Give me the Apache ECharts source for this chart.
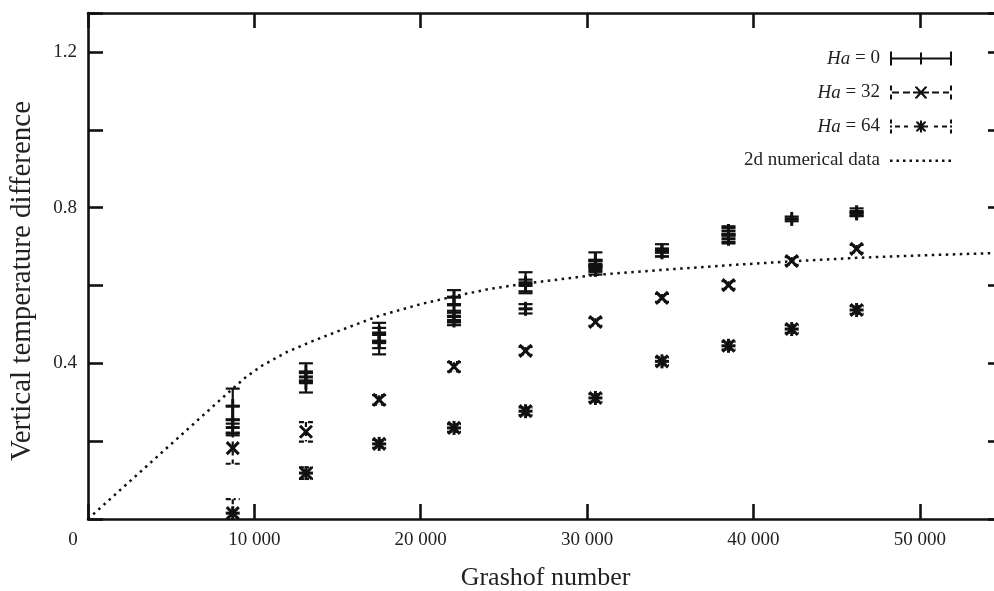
<!DOCTYPE html>
<html>
<head>
<meta charset="utf-8">
<script src="https://cdn.jsdelivr.net/npm/echarts@6/dist/echarts.min.js"></script>
<style>
html,body{margin:0;padding:0;background:#fff;}
#chart{width:994px;height:591px;}
</style>
</head>
<body>
<div id="chart"></div>
<script>
// ---- data: [Grashof number, temperature difference, error half-width] ----
const ha0 = [
  [8700,0.29,0.045],[8700,0.255,0.035],[8700,0.235,0.02],
  [13100,0.378,0.022],[13100,0.35,0.025],[13100,0.365,0.012],
  [17500,0.478,0.026],[17500,0.457,0.034],[17500,0.456,0.017],
  [22000,0.57,0.018],[22000,0.55,0.02],[22000,0.52,0.015],[22000,0.51,0.012],
  [26300,0.607,0.027],[26300,0.6,0.015],[26300,0.54,0.012],
  [30500,0.665,0.02],[30500,0.65,0.015],[30500,0.64,0.012],[30500,0.655,0.008],
  [34500,0.69,0.016],[34500,0.685,0.01],
  [38500,0.74,0.012],[38500,0.72,0.012],[38500,0.73,0.018],
  [42300,0.771,0.006],
  [46200,0.788,0.01],[46200,0.785,0.006]
];
const ha32 = [
  [8700,0.182,0.04],[13100,0.224,0.025],[17500,0.306,0.012],[22000,0.391,0.012],
  [26300,0.432,0.01],[30500,0.506,0.01],[34500,0.568,0.01],[38500,0.601,0.01],
  [42300,0.663,0.01],[46200,0.694,0.01]
];
const ha64 = [
  [8700,0.015,0.036],[13100,0.118,0.015],[17500,0.193,0.01],[22000,0.234,0.01],
  [26300,0.277,0.01],[30500,0.311,0.01],[34500,0.405,0.01],[38500,0.445,0.01],
  [42300,0.488,0.01],[46200,0.537,0.01]
];
const numGr  = [0, 8700, 9500, 10500, 12000, 13500, 15000, 17500, 20000, 22000, 24000, 26300, 30500, 34500, 38500, 42300, 46200, 50000, 55000];
const numVal = [0, 0.335, 0.365, 0.395, 0.43, 0.457, 0.482, 0.522, 0.552, 0.572, 0.59, 0.605, 0.627, 0.64, 0.652, 0.662, 0.671, 0.677, 0.684];
const seriesNames = ['Ha = 0', 'Ha = 32', 'Ha = 64', '2d numerical data'];
const yTickLabels = [0.4, 0.8, 1.2];

const INK = '#111';
const FONT = '"Liberation Serif", "DejaVu Serif", serif';

function errRenderer(kind) {
  return function (params, api) {
    const x = api.value(0), y = api.value(1), e = api.value(2);
    const c = api.coord([x, y]);
    const t = api.coord([x, y + e]);
    const b = api.coord([x, y - e]);
    const cap = 7;
    const dash = kind === 0 ? null : (kind === 1 ? [5, 4] : [5, 3, 2, 3]);
    const ls = { stroke: INK, lineWidth: 2.2, lineDash: dash, fill: null };
    const ms = { stroke: INK, lineWidth: 3, fill: null };
    const ch = [
      { type: 'line', shape: { x1: c[0], y1: t[1], x2: c[0], y2: b[1] }, style: ls },
      { type: 'line', shape: { x1: c[0] - cap, y1: t[1], x2: c[0] + cap, y2: t[1] }, style: ls },
      { type: 'line', shape: { x1: c[0] - cap, y1: b[1], x2: c[0] + cap, y2: b[1] }, style: ls }
    ];
    if (kind === 0) {
      ch.push({ type: 'line', shape: { x1: c[0] - 7, y1: c[1], x2: c[0] + 7, y2: c[1] }, style: ms });
      ch.push({ type: 'line', shape: { x1: c[0], y1: c[1] - 7, x2: c[0], y2: c[1] + 7 }, style: ms });
    } else {
      const d = 6;
      ch.push({ type: 'line', shape: { x1: c[0] - d, y1: c[1] - d, x2: c[0] + d, y2: c[1] + d }, style: ms });
      ch.push({ type: 'line', shape: { x1: c[0] - d, y1: c[1] + d, x2: c[0] + d, y2: c[1] - d }, style: ms });
      if (kind === 2) {
        ch.push({ type: 'line', shape: { x1: c[0], y1: c[1] - 7, x2: c[0], y2: c[1] + 7 }, style: ms });
        ch.push({ type: 'line', shape: { x1: c[0] - 7, y1: c[1], x2: c[0] + 7, y2: c[1] }, style: ms });
      }
    }
    return { type: 'group', children: ch };
  };
}

// legend sample icons (62 x 14 box)
const iconHa0 = 'path://M0 0h2v14h-2z M2 6h58v2h-58z M60 0h2v14h-2z M30 1h2v12h-2z';
const iconHa32 = 'path://M0 0h2v5h-2z M0 9h2v5h-2z M2 6h7v2h-7z M13 6h7v2h-7z M23 6h16v2h-16z ' +
  'M25 1L27 1L37 12L37 13L35 13L25 2Z M35 1L37 1L37 2L27 13L25 13L25 12Z ' +
  'M42 6h7v2h-7z M53 6h6v2h-6z M60 0h2v5h-2z M60 9h2v5h-2z';
const iconHa64 = 'path://M0 0h2v4h-2z M0 6h2v2h-2z M0 10h2v4h-2z M5 6h5v2h-5z M14 6h4v2h-4z ' +
  'M26 2L28 2L36 11L36 12L34 12L26 3Z M34 2L36 2L36 3L28 12L26 12L26 11Z M30 1h2v12h-2z M24 6h14v2h-14z ' +
  'M44 6h4v2h-4z M52 6h5v2h-5z M60 0h2v4h-2z M60 6h2v2h-2z M60 10h2v4h-2z';
let dots = 'path://M0 0 M62 14';
for (let i = 0; i + 2.5 <= 62; i += 6.5) dots += ' M' + i + ' 6h2.5v2.5h-2.5z';
const iconNum = dots;

function fmtGr(v) {
  if (v === 0) return '{z|0}';
  if (v % 10000 !== 0) return '';
  return String(v / 1000) + ' 000';
}

const chart = echarts.init(document.getElementById('chart'), null, { renderer: 'canvas' });
function axisBase() {
  return {
    axisLine: { onZero: false, lineStyle: { color: INK, width: 2.6 } },
    axisTick: { inside: true, length: 15, lineStyle: { color: INK, width: 2.6 } },
    splitLine: { show: false }
  };
}
chart.setOption({
  animation: false,
  color: [INK, INK, INK, INK],
  textStyle: { fontFamily: FONT, color: '#222' },
  grid: { left: 88, top: 13, right: -9, bottom: 72, containLabel: false, outerBoundsMode: 'none' },
  legend: {
    orient: 'vertical',
    right: 37,
    top: 43,
    align: 'right',
    itemWidth: 62,
    itemHeight: 14,
    itemGap: 13,
    selectedMode: false,
    itemStyle: { borderWidth: 0 },
    textStyle: {
      fontFamily: FONT, fontSize: 19, color: '#222', lineHeight: 21,
      padding: [0, 5, 0, 0],
      rich: { i: { fontStyle: 'italic', fontFamily: FONT, fontSize: 19, color: '#222' } }
    },
    formatter: function (name) {
      if (name.indexOf('Ha') === 0) return '{i|Ha}' + name.slice(2);
      return name;
    },
    data: [
      { name: seriesNames[0], icon: iconHa0 },
      { name: seriesNames[1], icon: iconHa32 },
      { name: seriesNames[2], icon: iconHa64 },
      { name: seriesNames[3], icon: iconNum }
    ]
  },
  xAxis: [
    Object.assign(axisBase(), {
      type: 'value', position: 'bottom', min: 0, max: 55000, interval: 10000,
      name: 'Grashof number', nameLocation: 'middle', nameGap: 46,
      nameTextStyle: { fontFamily: FONT, fontSize: 26, color: '#222' },
      axisLabel: {
        margin: 12, fontFamily: FONT, fontSize: 19, color: '#222', showMaxLabel: false,
        formatter: fmtGr,
        rich: { z: { fontFamily: FONT, fontSize: 19, color: '#222', padding: [0, 30, 0, 0] } }
      }
    }),
    Object.assign(axisBase(), {
      type: 'value', position: 'top', min: 0, max: 55000, interval: 10000,
      axisLabel: { show: false }
    })
  ],
  yAxis: [
    Object.assign(axisBase(), {
      type: 'value', position: 'left', min: 0, max: 1.3, interval: 0.2,
      name: 'Vertical temperature difference', nameLocation: 'middle', nameGap: 51,
      nameTextStyle: { fontFamily: FONT, fontSize: 29, color: '#222', padding: [0, 30, 0, 0] },
      axisLabel: {
        margin: 11, fontFamily: FONT, fontSize: 19, color: '#222',
        formatter: function (v) {
          const k = Math.round(v * 10) / 10;
          return yTickLabels.indexOf(k) >= 0 ? k.toFixed(1) : '';
        }
      }
    }),
    Object.assign(axisBase(), {
      type: 'value', position: 'right', min: 0, max: 1.3, interval: 0.2,
      axisLabel: { show: false }
    })
  ],
  series: [
    { name: seriesNames[0], type: 'custom', clip: true, renderItem: errRenderer(0), data: ha0,
      encode: { x: 0, y: 1 }, itemStyle: { color: INK } },
    { name: seriesNames[1], type: 'custom', clip: true, renderItem: errRenderer(1), data: ha32,
      encode: { x: 0, y: 1 }, itemStyle: { color: INK } },
    { name: seriesNames[2], type: 'custom', clip: true, renderItem: errRenderer(2), data: ha64,
      encode: { x: 0, y: 1 }, itemStyle: { color: INK } },
    { name: seriesNames[3], type: 'line', showSymbol: false, symbol: 'none', clip: true,
      data: numGr.map(function (g, i) { return [g, numVal[i]]; }),
      lineStyle: { color: INK, width: 2.5, type: [2.5, 4.5] },
      itemStyle: { color: INK, borderWidth: 0 } }
  ]
});
</script>
</body>
</html>
